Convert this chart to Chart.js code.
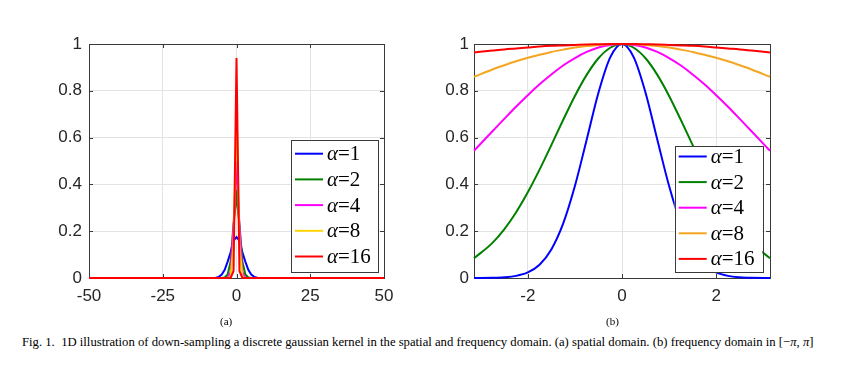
<!DOCTYPE html>
<html>
<head>
<meta charset="utf-8">
<script src="https://cdn.jsdelivr.net/npm/chart.js@4/dist/chart.umd.min.js"></script>
<style>
  body { margin: 0; background: #fff; }
  #wrap { position: relative; width: 847px; height: 375px; overflow: hidden; }
  canvas { position: absolute; top: 0; }
  .cap { position: absolute; font-family: "Liberation Serif", serif; color: #000; white-space: nowrap; }
</style>
</head>
<body>
<div id="wrap">
  <canvas id="spatialChart" width="420" height="320" style="left:0"></canvas>
  <canvas id="freqChart" width="427" height="320" style="left:420px"></canvas>
  <div class="cap" style="left:220px; top:315px; font-size:11px;">(a)</div>
  <div class="cap" style="left:606px; top:315px; font-size:11px;">(b)</div>
  <div class="cap" style="left:22px; top:335px; font-size:12.7px;">Fig. 1.&nbsp;&nbsp;1D illustration of down-sampling a discrete gaussian kernel in the spatial and frequency domain. (a) spatial domain. (b) frequency domain in [&minus;<i>π</i>, <i>π</i>]</div>
</div>
<script>
// legend labels and colours
const alphaLabels = ['α=1', 'α=2', 'α=4', 'α=8', 'α=16'];
const spatialColors = ['#0000ff', '#008000', '#ff00ff', '#ffd400', '#ff0000'];
const freqColors = ['#0000ff', '#008000', '#ff00ff', '#f4a521', '#ff0000'];

// (a) spatial domain
const spatialX = [-50, -8, -7, -6, -5, -4, -3, -2, -1, 0, 1, 2, 3, 4, 5, 6, 7, 8, 50];
const spatialA1 = [0, 0, 0.001, 0.005, 0.015, 0.035, 0.07, 0.11, 0.16, 0.175, 0.16, 0.11, 0.07, 0.035, 0.015, 0.005, 0.001, 0, 0];
const spatialA2 = [0, 0, 0, 0, 0, 0.002, 0.015, 0.07, 0.23, 0.35, 0.23, 0.07, 0.015, 0.002, 0, 0, 0, 0, 0];
const spatialA4 = [0, 0, 0, 0, 0, 0, 0.001, 0.025, 0.22, 0.5, 0.22, 0.025, 0.001, 0, 0, 0, 0, 0, 0];
const spatialA8 = [0, 0, 0, 0, 0, 0, 0, 0.004, 0.14, 0.72, 0.14, 0.004, 0, 0, 0, 0, 0, 0, 0];
const spatialA16 = [0, 0, 0, 0, 0, 0, 0, 0, 0.03, 0.94, 0.03, 0, 0, 0, 0, 0, 0, 0, 0];
const spatialTickStep = 25;

// (b) frequency domain in [-pi, pi]
const freqX = [-3.1416, -2.75, -2.5, -2.25, -2, -1.75, -1.5, -1.25, -1, -0.75, -0.5, -0.25, 0,
  0.25, 0.5, 0.75, 1, 1.25, 1.5, 1.75, 2, 2.25, 2.5, 2.75, 3.1416];
const freqA1 = [0.0001, 0.0008, 0.003, 0.009, 0.024, 0.057, 0.122, 0.232, 0.393, 0.591, 0.792, 0.943, 1,
  0.943, 0.792, 0.591, 0.393, 0.232, 0.122, 0.057, 0.024, 0.009, 0.003, 0.0008, 0.0001];
const freqA2 = [0.084, 0.150, 0.208, 0.280, 0.366, 0.463, 0.568, 0.675, 0.778, 0.868, 0.939, 0.984, 1,
  0.984, 0.939, 0.868, 0.778, 0.675, 0.568, 0.463, 0.366, 0.280, 0.208, 0.150, 0.084];
const freqA4 = [0.544, 0.627, 0.680, 0.732, 0.781, 0.828, 0.870, 0.908, 0.940, 0.966, 0.985, 0.996, 1,
  0.996, 0.985, 0.966, 0.940, 0.908, 0.870, 0.828, 0.781, 0.732, 0.680, 0.627, 0.544];
const freqA8 = [0.860, 0.891, 0.909, 0.926, 0.941, 0.954, 0.966, 0.976, 0.985, 0.991, 0.996, 0.999, 1,
  0.999, 0.996, 0.991, 0.985, 0.976, 0.966, 0.954, 0.941, 0.926, 0.909, 0.891, 0.860];
const freqA16 = [0.964, 0.972, 0.977, 0.981, 0.985, 0.989, 0.992, 0.994, 0.996, 0.998, 0.999, 1, 1,
  1, 0.999, 0.998, 0.996, 0.994, 0.992, 0.989, 0.985, 0.981, 0.977, 0.972, 0.964];
const freqTicks = [-2, 0, 2];

Chart.defaults.font.family = '"Liberation Sans", Arial, sans-serif';
Chart.defaults.color = '#262626';

// MATLAB-like box with inward ticks
const axesBox = {
  id: 'axesBox',
  beforeDatasetsDraw(chart) {
    const { ctx, chartArea: a } = chart;
    const tl = 4;
    ctx.save();
    ctx.strokeStyle = '#3a3a3a';
    ctx.lineWidth = 1;
    ctx.beginPath();
    chart.scales.x.ticks.forEach(t => {
      const px = Math.round(chart.scales.x.getPixelForValue(t.value)) + 0.5;
      ctx.moveTo(px, a.bottom); ctx.lineTo(px, a.bottom - tl);
      ctx.moveTo(px, a.top); ctx.lineTo(px, a.top + tl);
    });
    chart.scales.y.ticks.forEach(t => {
      const py = Math.round(chart.scales.y.getPixelForValue(t.value)) + 0.5;
      ctx.moveTo(a.left, py); ctx.lineTo(a.left + tl, py);
      ctx.moveTo(a.right, py); ctx.lineTo(a.right - tl, py);
    });
    ctx.stroke();
    ctx.strokeRect(Math.round(a.left) + 0.5, Math.round(a.top) + 0.5,
      Math.round(a.right - a.left), Math.round(a.bottom - a.top));
    ctx.restore();
  }
};

const insideLegend = {
  id: 'insideLegend',
  afterDatasetsDraw(chart, args, opts) {
    const { ctx, chartArea: a } = chart;
    const x0 = a.right - opts.right - opts.width;
    const y0 = a.bottom - opts.bottom - opts.height;
    ctx.save();
    ctx.fillStyle = '#fff';
    ctx.fillRect(x0, y0, opts.width, opts.height);
    ctx.strokeStyle = '#3a3a3a';
    ctx.lineWidth = 1;
    ctx.strokeRect(Math.round(x0) + 0.5, Math.round(y0) + 0.5, Math.round(opts.width), Math.round(opts.height));
    ctx.textBaseline = 'middle';
    chart.data.datasets.forEach((ds, i) => {
      const y = y0 + opts.first + i * opts.row;
      ctx.strokeStyle = ds.borderColor;
      ctx.lineWidth = 2;
      ctx.beginPath();
      ctx.moveTo(x0 + 4, y);
      ctx.lineTo(x0 + 32, y);
      ctx.stroke();
      ctx.fillStyle = '#000';
      ctx.font = 'italic 21px "Liberation Serif"';
      ctx.fillText(ds.label[0], x0 + 36, y + 1);
      const aw = ctx.measureText(ds.label[0]).width;
      ctx.font = '21px "Liberation Serif"';
      ctx.fillText(ds.label.slice(1), x0 + 36 + aw, y + 1);
    });
    ctx.restore();
  }
};

function makeDatasets(xs, series, colors, tension) {
  return series.map((vals, i) => ({
    label: alphaLabels[i],
    data: xs.map((x, j) => ({ x: x, y: vals[j] })),
    borderColor: colors[i],
    borderWidth: 2,
    pointRadius: 0,
    fill: false,
    clip: false,
    order: series.length - i,
    cubicInterpolationMode: tension ? 'monotone' : 'default',
    tension: 0
  }));
}

function axisOpts(min, max, pad, extra) {
  return Object.assign({
    type: 'linear',
    min: min,
    max: max,
    grid: { color: '#e3e3e3', drawTicks: false },
    border: { display: false },
    ticks: {
      font: { size: 17 }, padding: pad, color: '#262626',
      callback: v => String(Number(v.toFixed(2)))
    }
  }, extra);
}

new Chart(document.getElementById('spatialChart'), {
  type: 'line',
  data: {
    datasets: makeDatasets(spatialX,
      [spatialA1, spatialA2, spatialA4, spatialA8, spatialA16], spatialColors, false)
  },
  options: {
    responsive: false,
    animation: false,
    layout: { padding: { left: 49, right: 36, top: 44, bottom: 12 } },
    scales: {
      x: axisOpts(-50, 50, 8, { afterFit: s => { s.height = 30; } }),
      y: axisOpts(0, 1, 7, { afterFit: s => { s.width = 40; } })
    },
    plugins: {
      legend: { display: false },
      tooltip: { enabled: false },
      insideLegend: { right: 6.3, bottom: 6.6, width: 86.7, height: 131.7, first: 14, row: 25.7 }
    }
  },
  plugins: [axesBox, insideLegend]
});
const spatialChart = Chart.getChart('spatialChart');
spatialChart.options.scales.x.ticks.stepSize = spatialTickStep;
spatialChart.options.scales.y.ticks.stepSize = 0.2;
spatialChart.update();

new Chart(document.getElementById('freqChart'), {
  type: 'line',
  data: {
    datasets: makeDatasets(freqX,
      [freqA1, freqA2, freqA4, freqA8, freqA16], freqColors, true)
  },
  options: {
    responsive: false,
    animation: false,
    layout: { padding: { left: 14, right: 77, top: 44, bottom: 12 } },
    scales: {
      x: axisOpts(-3.1416, 3.1416, 8, {
        afterFit: s => { s.height = 30; },
        afterBuildTicks: s => { s.ticks = freqTicks.map(v => ({ value: v })); }
      }),
      y: axisOpts(0, 1, 5, { afterFit: s => { s.width = 40; } })
    },
    plugins: {
      legend: { display: false },
      tooltip: { enabled: false },
      insideLegend: { right: 7.7, bottom: 5.7, width: 87.6, height: 126.3, first: 10.5, row: 25.6 }
    }
  },
  plugins: [axesBox, insideLegend]
});
const freqChart = Chart.getChart('freqChart');
freqChart.options.scales.y.ticks.stepSize = 0.2;
freqChart.update();
</script>
</body>
</html>
